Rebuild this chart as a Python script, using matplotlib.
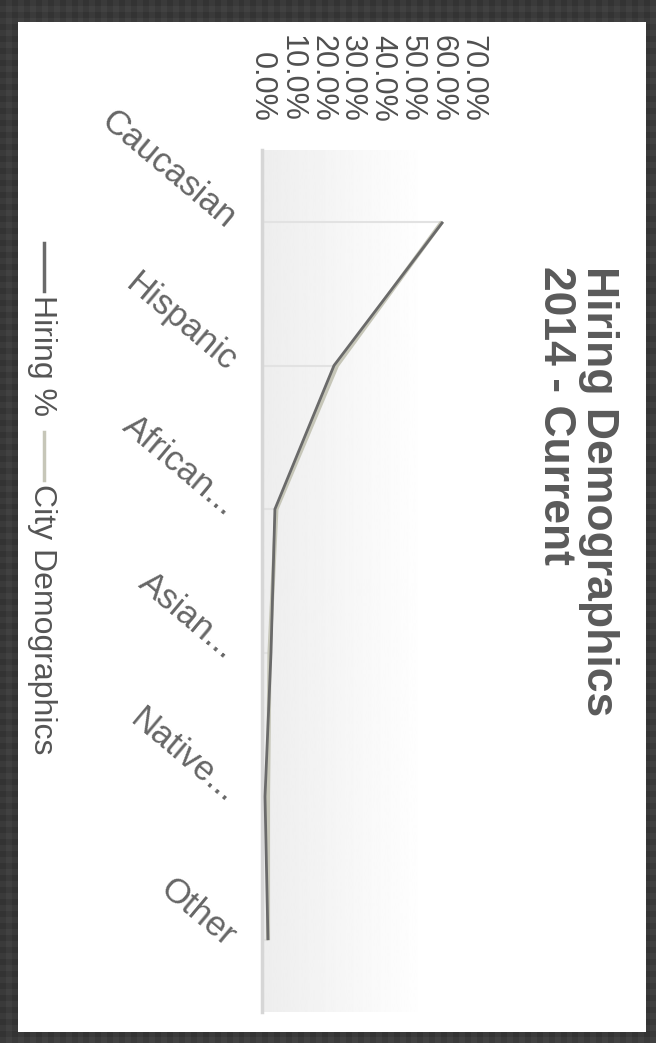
"""Hiring demographics line chart, drawn turned a quarter turn clockwise."""

import matplotlib

matplotlib.use("Agg")

import matplotlib.pyplot as plt
import numpy as np
from matplotlib.lines import Line2D
from matplotlib.patches import Rectangle

categories = ["Caucasian", "Hispanic", "African...", "Asian...", "Native...", "Other"]
hiring_pct = [60.3, 24.0, 4.3, 3.0, 1.0, 2.0]
city_pct = [60.0, 25.0, 4.8, 2.5, 2.0, 2.0]
series_names = ["Hiring %", "City Demographics"]
value_ticks = [0, 10, 20, 30, 40, 50, 60, 70]

W, H = 656, 1043
plt.rcParams["font.family"] = ["Liberation Sans", "DejaVu Sans"]


def fx(px):
    return px / W


def fy(py):
    return 1 - py / H


figure = plt.figure(figsize=(W / 100, H / 100), dpi=100)

# dark textured frame around a white card
frame = figure.add_axes([0, 0, 1, 1], zorder=-10)
pattern = np.full((H // 6 + 1, W // 6 + 1), 0.23)
pattern[::2, ::2] = 0.20
pattern[1::2, 1::2] = 0.26
frame.imshow(pattern, cmap="gray", vmin=0, vmax=1, aspect="auto",
             interpolation="nearest", extent=[0, 1, 0, 1])
frame.set_axis_off()
frame.add_patch(Rectangle((fx(18), fy(1032)), fx(628), 1010 / H,
                          transform=figure.transFigure, facecolor="white",
                          edgecolor="none"))

axis = figure.add_axes([fx(262), fy(1012), fx(210), 862 / H])
axis.set_facecolor("none")
positions = np.arange(len(categories))

# soft grey wash fading to the right
wash = np.linspace(0.93, 1.0, 256)[None, :]
axis.imshow(wash, cmap="gray", vmin=0, vmax=1, aspect="auto",
            extent=[0, 55, len(categories) - 0.5, -0.5], zorder=0)

axis.hlines(positions, 0, hiring_pct, color="#e2e2e2", linewidth=1.5, zorder=1)
axis.plot(city_pct, positions, color="#c6c6b8", linewidth=3, zorder=2,
          solid_capstyle="butt")
axis.plot(hiring_pct, positions, color="#6a6a6a", linewidth=2, zorder=3,
          solid_capstyle="butt")

axis.set_xlim(0, 70)
axis.set_ylim(len(categories) - 0.5, -0.5)
for side in ["top", "right", "bottom"]:
    axis.spines[side].set_visible(False)
axis.spines["left"].set_color("#d6d6d6")
axis.spines["left"].set_linewidth(2.5)

axis.xaxis.tick_top()
axis.set_xticks(value_ticks)
axis.set_xticklabels([f"{v:.1f}%" for v in value_ticks])
axis.tick_params(axis="x", length=0, pad=20, labelsize=22, labelcolor="#505050")
plt.setp(axis.get_xticklabels(), rotation=-90, ha="center", va="bottom")

axis.set_yticks(positions)
axis.set_yticklabels(categories)
axis.tick_params(axis="y", length=0, pad=22, labelsize=25, labelcolor="#666666")
plt.setp(axis.get_yticklabels(), rotation=-40, ha="right", va="center",
         rotation_mode="anchor")

# title, read from top to bottom
figure.text(fx(598), fy(266), "Hiring Demographics", rotation=-90, ha="center",
            va="top", fontsize=32, fontweight="bold", color="#5a5a5a")
figure.text(fx(555), fy(266), "2014 - Current", rotation=-90, ha="center",
            va="top", fontsize=32, fontweight="bold", color="#5a5a5a")

# legend, turned with the chart
legend_items = [(series_names[0], "#6a6a6a", 243), (series_names[1], "#c6c6b8", 432)]
for name, colour, top in legend_items:
    figure.add_artist(Line2D([fx(44), fx(44)], [fy(top), fy(top + 48)],
                             transform=figure.transFigure, color=colour,
                             linewidth=2.5))
    figure.text(fx(42), fy(top + 52), name, rotation=-90, ha="center", va="top",
                fontsize=23, color="#555555")

figure.savefig("out.png", dpi=100)
